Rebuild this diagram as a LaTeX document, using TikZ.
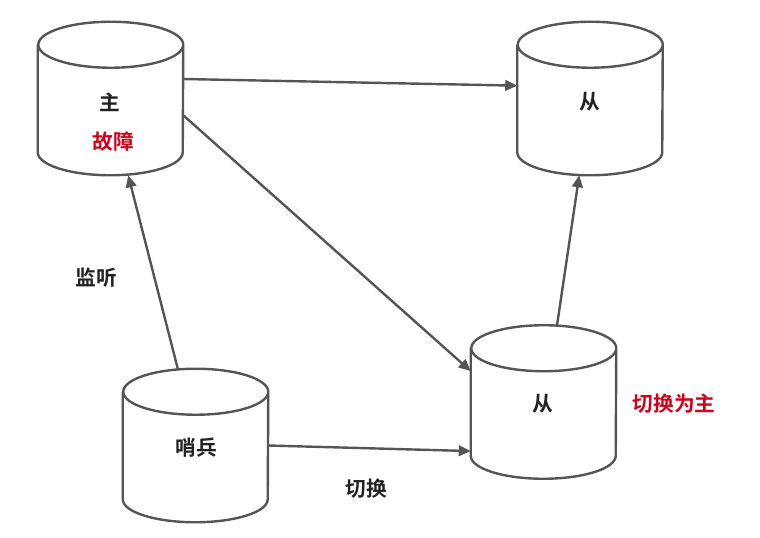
\documentclass[tikz,border=0pt]{standalone}
\usepackage{fontspec}
\setmainfont{Noto Sans CJK SC}[BoldFont={Noto Sans CJK SC Bold}]
\usepackage{tikz}
\usetikzlibrary{arrows.meta,positioning}
\definecolor{linegray}{RGB}{85,85,85}
\definecolor{txtdark}{RGB}{34,34,34}
\definecolor{alertred}{RGB}{208,2,27}
% cylinder drawn round a named (invisible) box node
\newcommand{\dbcyl}[1]{%
	\draw[draw=linegray, line width=1.8pt, fill=white]
		([yshift=-17.25pt]#1.north west) -- ([yshift=17.25pt]#1.south west)
		arc[start angle=180, end angle=360, x radius=54.375pt, y radius=17.25pt]
		-- ([yshift=-17.25pt]#1.north east)
		arc[start angle=0, end angle=360, x radius=54.375pt, y radius=17.25pt];}

\begin{document}
\begin{tikzpicture}[x=0.75pt,y=-0.75pt,
		db/.style={rectangle, draw=none, minimum width=108.75pt, minimum height=114.75pt, inner sep=0pt},
		lbl/.style={font=\bfseries\fontsize{15.5}{17}\selectfont, text=txtdark, inner sep=0pt},
		alert/.style={lbl, text=alertred},
		>={Triangle[length=9pt,width=8pt]}]
		\useasboundingbox (0,0) rectangle (760,538);
		\node[db] (master) at (110.5,98.5) {};
		\node[db] (slaveA) at (590,98.5) {};
		\node[db] (slaveB) at (543.5,402) {};
		\node[db] (sentinel) at (195.5,445.5) {};
		\dbcyl{master}
		\dbcyl{slaveA}
		\dbcyl{slaveB}
		\dbcyl{sentinel}

		\node[lbl] (masterTxt) at (110,102) {主};
		\node[alert] (faultTxt) at (113,142) {故障};
		\node[lbl] (slaveATxt) at (590,102) {从};
		\node[lbl] (slaveBTxt) at (543,404) {从};
		\node[lbl] (sentinelTxt) at (196,448) {哨兵};
		\node[alert] (promoteTxt) at (674,404) {切换为主};
		\node[lbl] (watchTxt) at (96,278) {监听};
		\node[lbl] (switchTxt) at (366,489) {切换};

		\draw[->, draw=linegray, line width=1.8pt] (master.15) -- (slaveA.170);
		\draw[->, draw=linegray, line width=1.8pt] (master.-13) -- (slaveB.157);
		\draw[->, draw=linegray, line width=1.8pt] (sentinel.103.6) -- (master.-77.4);
		\draw[->, draw=linegray, line width=1.8pt] (sentinel.east) -- (slaveB.-146.5);
		\draw[->, draw=linegray, line width=1.8pt] (slaveB.80.7) -- (slaveA.-98.7);
	\end{tikzpicture}
\end{document}
